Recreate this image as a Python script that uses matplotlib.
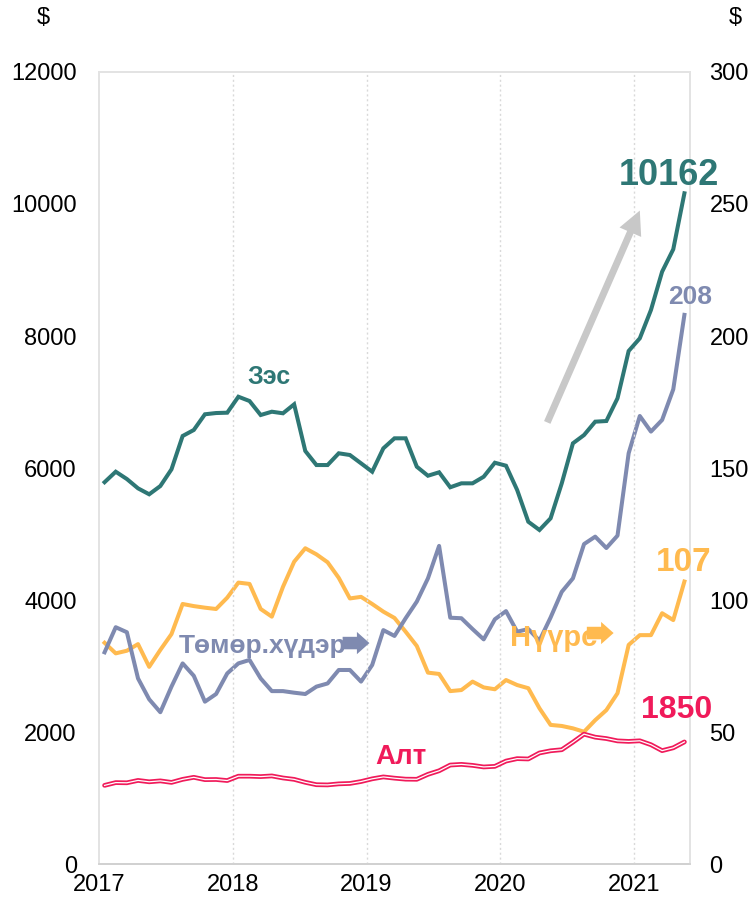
import matplotlib
matplotlib.use("Agg")
import matplotlib.pyplot as plt
from matplotlib.patches import FancyArrowPatch

plt.rcParams['font.family'] = ['Liberation Sans', 'DejaVu Sans']

years = ["2017", "2018", "2019", "2020", "2021"]

# Monthly values Jan 2017 - May 2021 (53 months)
copper = [5785, 5944, 5833, 5692, 5602, 5727, 5980, 6485, 6576, 6814, 6833, 6838,
          7080, 7015, 6803, 6853, 6829, 6965, 6258, 6045, 6045, 6223, 6197, 6071,
          5944, 6298, 6450, 6450, 6020, 5883, 5935, 5708, 5768, 5768, 5868, 6080,
          6035, 5667, 5186, 5061, 5238, 5768, 6374, 6500, 6702, 6712, 7056, 7773,
          7965, 8394, 8974, 9314, 10162]
gold = [1192, 1234, 1231, 1267, 1246, 1260, 1237, 1283, 1314, 1279, 1281, 1265,
        1331, 1331, 1325, 1335, 1304, 1283, 1238, 1202, 1199, 1215, 1221, 1250,
        1291, 1320, 1301, 1286, 1284, 1359, 1413, 1500, 1510, 1495, 1471, 1480,
        1560, 1597, 1592, 1683, 1716, 1732, 1846, 1968, 1922, 1901, 1866, 1858,
        1867, 1808, 1718, 1761, 1850]
iron_ore = [80.2, 89.7, 87.8, 70.3, 62.4, 57.5, 67.2, 76.0, 71.3, 61.5, 64.4, 72.2,
            76.0, 77.3, 70.3, 65.5, 65.5, 64.9, 64.4, 67.2, 68.4, 73.5, 73.5, 69.1,
            75.4, 88.6, 86.4, 93.1, 99.4, 108.2, 120.5, 93.3, 93.1, 89.0, 85.1, 92.7,
            95.8, 88.0, 89.0, 84.6, 93.4, 103.1, 108.2, 121.2, 124.0, 119.7, 124.4, 155.6,
            169.7, 163.8, 168.2, 179.8, 208]
coal = [83.8, 79.8, 80.8, 83.3, 74.7, 81.1, 87.1, 98.5, 97.7, 97.1, 96.6, 100.9,
        106.6, 106.1, 96.6, 93.7, 105.0, 114.5, 119.6, 117.3, 114.3, 108.4, 100.6, 101.2,
        98.5, 95.6, 93.2, 88.0, 82.6, 72.5, 72.0, 65.5, 65.9, 69.1, 66.9, 66.2,
        69.7, 67.8, 66.6, 59.0, 52.7, 52.3, 51.4, 50.1, 54.5, 58.3, 64.7, 83.0,
        86.7, 86.7, 95.0, 92.4, 107]

C_CU = '#2E7775'
C_FE = '#7F8AB0'
C_COAL = '#FFBA4F'
C_AU = '#F01A5A'
GRID = '#D9D9D9'

x = list(range(len(copper)))

fig = plt.figure(figsize=(7.54, 9.10), dpi=100)
ax = fig.add_axes([0.1313, 0.0505, 0.7838, 0.8704])
ax2 = ax.twinx()
ax.set_zorder(ax2.get_zorder() + 1)
ax.patch.set_visible(False)

# left axis: copper, gold
ax.plot(x, gold, color=C_AU, lw=3.4, solid_capstyle='round', zorder=3)
ax.plot(x, gold, color='white', lw=0.9, zorder=3.1)
ax.plot(x, copper, color=C_CU, lw=2.9, solid_joinstyle='miter', zorder=5)

# right axis: coal, iron ore
ax2.plot(x, coal, color=C_COAL, lw=2.9, zorder=3)
ax2.plot(x, iron_ore, color=C_FE, lw=2.9, zorder=4)

ax.set_xlim(-0.5, len(copper) - 0.5)
ax.set_ylim(0, 12000)
ax2.set_ylim(0, 300)
ax.set_yticks(range(0, 12001, 2000))
ax2.set_yticks(range(0, 301, 50))
tick_pos = [-0.5 + 12 * i for i in range(len(years))]
ax.set_xticks(tick_pos)
ax.set_xticklabels(years)
for t in tick_pos[1:]:
    ax.axvline(t, color=GRID, lw=1, ls=(0, (1.5, 2)), zorder=1)

for a in (ax, ax2):
    for s in a.spines.values():
        s.set_color('#E3E3E3')
        s.set_linewidth(1.2)
    a.spines['bottom'].set_color('#D0D0D0')
ax.tick_params(axis='y', length=0, pad=16, labelsize=17)
ax2.tick_params(axis='y', length=0, pad=14, labelsize=17)
ax.tick_params(axis='x', length=0, pad=7, labelsize=17)

fig.text(43 / 754, 1 - 18 / 910, '$', ha='center', va='center', fontsize=17)
fig.text(735 / 754, 1 - 18 / 910, '$', ha='center', va='center', fontsize=17)

# annotations
ax.text(14.7, 7379, 'Зэс', color=C_CU, fontsize=18, fontweight='bold', ha='center', va='center')
ax.text(50.6, 10439, '10162', color=C_CU, fontsize=26, fontweight='bold', ha='center', va='center')
ax.text(52.5, 8591, '208', color=C_FE, fontsize=19, fontweight='bold', ha='center', va='center')
ax.text(51.9, 4561, '107', color=C_COAL, fontsize=24, fontweight='bold', ha='center', va='center')
ax.text(51.3, 2333, '1850', color=C_AU, fontsize=23, fontweight='bold', ha='center', va='center')
ax.text(26.6, 1621, 'Алт', color=C_AU, fontsize=20, fontweight='bold', ha='center', va='center')
ax.text(14.2, 3303, 'Төмөр.хүдэр', color=C_FE, fontsize=19, fontweight='bold', ha='center', va='center', zorder=6)
ax.text(40.3, 3420, 'Нүүрс', color=C_COAL, fontsize=21, fontweight='bold', ha='center', va='center', zorder=6)

def block_arrow(x0, x1, yv, color):
    p = FancyArrowPatch((x0, yv), (x1, yv),
                        arrowstyle='simple,tail_width=9,head_width=16,head_length=9',
                        mutation_scale=1, color=color, lw=0, zorder=7)
    ax.add_patch(p)

block_arrow(21.1, 24.0, 3348, C_FE)
block_arrow(43.0, 45.9, 3500, C_COAL)

g = FancyArrowPatch((39.6, 6652), (48.1, 9939),
                    arrowstyle='simple,tail_width=5,head_width=17,head_length=17',
                    mutation_scale=1, color='#C8C8C8', lw=0, zorder=2)
ax.add_patch(g)

fig.savefig('out.png', dpi=100)
